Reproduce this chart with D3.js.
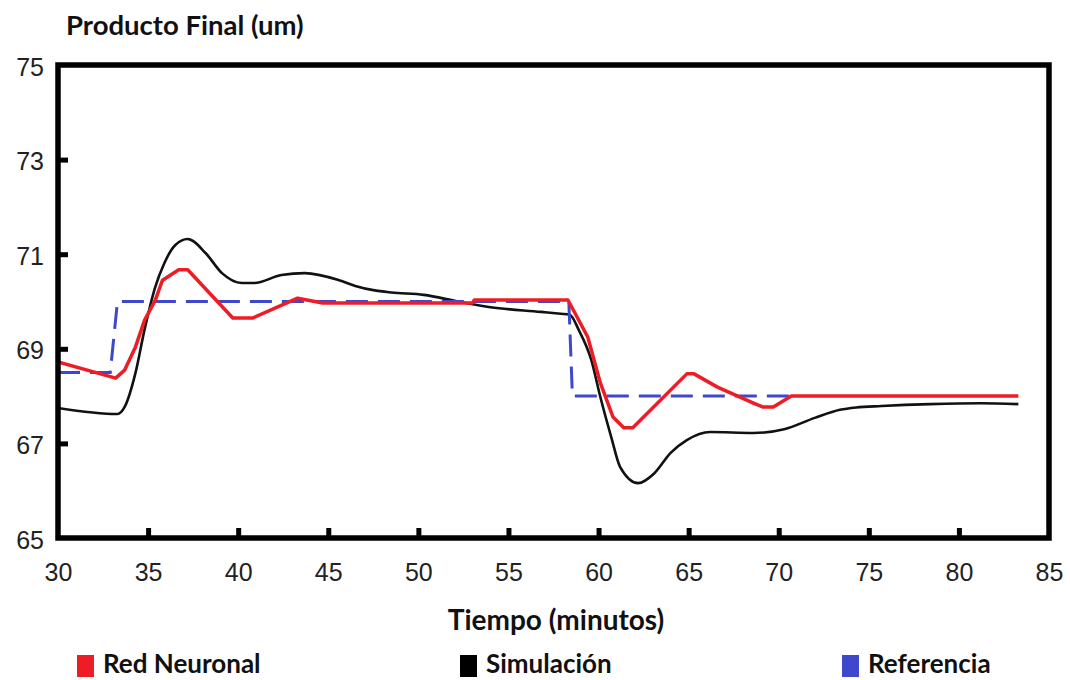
<!DOCTYPE html>
<html>
<head>
<meta charset="utf-8">
<script src="https://cdn.jsdelivr.net/npm/d3@7"></script>
<style>
  body { margin: 0; background: #fff; }
  svg text { font-family: "Liberation Sans", Arial, sans-serif; }
  .lbl { font-family: Lato, "Open Sans", sans-serif; font-weight: 700; fill: #111; }
</style>
</head>
<body>
<div id="chart"></div>
<script>
// tiempo (minutos) / valor (um)
const redT = [30, 33.2, 33.7, 34.3, 34.8, 35.4, 35.8, 36.7, 37.2, 39.7, 40.8, 43.3, 44.7, 46, 53, 53.1, 58.3, 58.6, 59.4, 60.1, 60.8, 61.4, 61.9, 64.9, 65.3, 66.6, 68.6, 69.1, 69.7, 70.7, 83.3]
const redV = [68.72, 68.38, 68.55, 69.04, 69.6, 70.03, 70.45, 70.67, 70.67, 69.65, 69.65, 70.07, 69.97, 69.97, 69.97, 70.03, 70.03, 69.82, 69.25, 68.28, 67.56, 67.33, 67.33, 68.47, 68.47, 68.19, 67.85, 67.77, 67.77, 68.0, 68.0]

const simT = [30, 33.3, 33.7, 34.3, 34.8, 35.4, 35.9, 36.5, 37.2, 38.2, 39.1, 40.2, 40.9, 42.4, 43.7, 45.6, 46.5, 47.5, 48.5, 50.3, 52.2, 54, 56.8, 57.9, 58.4, 58.9, 59.6, 60.1, 60.7, 61.2, 62.2, 63.1, 64, 64.9, 66.2, 68.6, 70.3, 72, 73.4, 74.3, 75.7, 78.4, 81.2, 83.3]
const simV = [67.75, 67.62, 67.77, 68.49, 69.4, 70.31, 70.81, 71.19, 71.32, 71.02, 70.6, 70.39, 70.39, 70.56, 70.6, 70.45, 70.33, 70.24, 70.19, 70.14, 70.0, 69.88, 69.78, 69.74, 69.72, 69.4, 68.76, 67.98, 67.14, 66.5, 66.16, 66.37, 66.8, 67.07, 67.24, 67.22, 67.3, 67.54, 67.71, 67.76, 67.79, 67.83, 67.85, 67.83]

const refT = [30, 32.9, 33.3, 58.35, 58.55, 70.8]
const refV = [68.5, 68.5, 70.0, 70.0, 68.0, 68.0]

const xTicks = [30, 35, 40, 45, 50, 55, 60, 65, 70, 75, 80, 85]
const yTicks = [65, 67, 69, 71, 73, 75]

const series = [
  { name: 'Red Neuronal', color: '#ee1c25' },
  { name: 'Simulación', color: '#000000' },
  { name: 'Referencia', color: '#3f48cc' }
]

const W = 1070, H = 680
const margin = { top: 65, right: 21, bottom: 142, left: 58 }

const svg = d3.select('#chart').append('svg')
  .attr('width', W)
  .attr('height', H)

const x = d3.scaleLinear().domain([30, 85]).range([margin.left, W - margin.right])
const y = d3.scaleLinear().domain([65, 75]).range([H - margin.bottom, margin.top])

const zip = (ts, vs) => ts.map((t, i) => ({ t, v: vs[i] }))

// clip the lines to the plot box
svg.append('clipPath').attr('id', 'clip')
  .append('rect')
  .attr('x', margin.left).attr('y', margin.top)
  .attr('width', x(85) - x(30)).attr('height', y(65) - y(75))

const plot = svg.append('g').attr('clip-path', 'url(#clip)')

// simulación
plot.append('path')
  .datum(zip(simT, simV))
  .attr('fill', 'none')
  .attr('stroke', '#111')
  .attr('stroke-width', 2.6)
  .attr('d', d3.line().x(d => x(d.t)).y(d => y(d.v)).curve(d3.curveMonotoneX))

// referencia
plot.append('path')
  .datum(zip(refT, refV))
  .attr('fill', 'none')
  .attr('stroke', '#3f48cc')
  .attr('stroke-width', 3)
  .attr('stroke-dasharray', '22,10')
  .attr('d', d3.line().x(d => x(d.t)).y(d => y(d.v)))

// red neuronal
plot.append('path')
  .datum(zip(redT, redV))
  .attr('fill', 'none')
  .attr('stroke', '#ee1c25')
  .attr('stroke-width', 3.5)
  .attr('stroke-linejoin', 'round')
  .attr('d', d3.line().x(d => x(d.t)).y(d => y(d.v)))

// axes: inward ticks
const xAxis = svg.append('g')
  .attr('transform', `translate(0,${y(65)})`)
  .call(d3.axisBottom(x).tickValues(xTicks).tickSize(-10).tickPadding(25))
const yAxis = svg.append('g')
  .attr('transform', `translate(${x(30)},0)`)
  .call(d3.axisLeft(y).tickValues(yTicks).tickSize(-10).tickPadding(14))

for (const ax of [xAxis, yAxis]) {
  ax.select('.domain').remove()
  ax.selectAll('line').attr('stroke', '#000').attr('stroke-width', 5)
  ax.selectAll('text').attr('font-size', 25).attr('fill', '#222')
}
yAxis.selectAll('text').attr('dy', '0.4em')
xAxis.selectAll('.tick').filter(d => d === 30 || d === 85).select('line').remove()
yAxis.selectAll('.tick').filter(d => d === 65 || d === 75).select('line').remove()

// frame
svg.append('rect')
  .attr('x', x(30)).attr('y', y(75))
  .attr('width', x(85) - x(30)).attr('height', y(65) - y(75))
  .attr('fill', 'none')
  .attr('stroke', '#000')
  .attr('stroke-width', 5.5)

// titles
svg.append('text').attr('class', 'lbl')
  .attr('x', 66).attr('y', 35)
  .attr('font-size', 27.5)
  .text('Producto Final (um)')

svg.append('text').attr('class', 'lbl')
  .attr('x', 556).attr('y', 630)
  .attr('text-anchor', 'middle')
  .attr('font-size', 28)
  .text('Tiempo (minutos)')

// legend
const legX = [77, 460, 842]
const leg = svg.append('g')
series.forEach((s, i) => {
  leg.append('rect')
    .attr('x', legX[i]).attr('y', 655)
    .attr('width', 17).attr('height', 22)
    .attr('fill', s.color)
  leg.append('text').attr('class', 'lbl')
    .attr('x', legX[i] + 26).attr('y', 673)
    .attr('font-size', 26)
    .text(s.name)
})
</script>
</body>
</html>
